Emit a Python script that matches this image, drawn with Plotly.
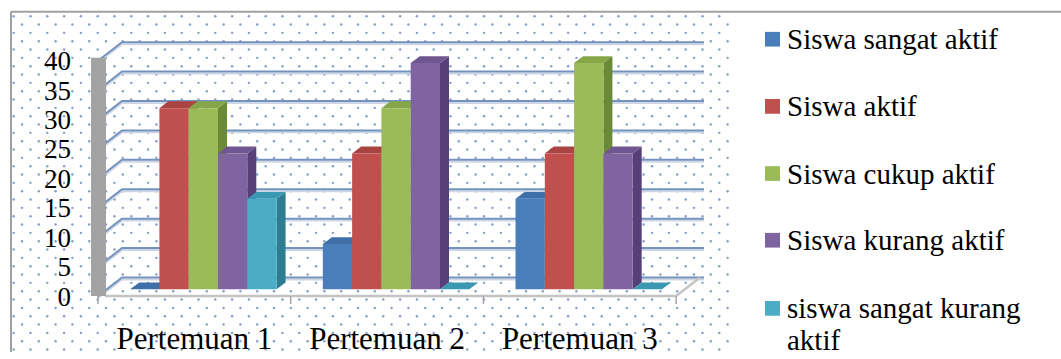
import numpy as np
import plotly.graph_objects as go

# ---------------- data ----------------
categories = ["Pertemuan 1", "Pertemuan 2", "Pertemuan 3"]
series_names = [
    "Siswa sangat aktif",
    "Siswa aktif",
    "Siswa cukup aktif",
    "Siswa kurang aktif",
    "siswa sangat kurang aktif",
]
sangat_aktif = [0, 7.69, 15.38]
aktif = [30.77, 23.08, 23.08]
cukup_aktif = [30.77, 30.77, 38.46]
kurang_aktif = [23.08, 38.46, 23.08]
sangat_kurang_aktif = [15.38, 0, 0]
y_ticks = [0, 5, 10, 15, 20, 25, 30, 35, 40]

series_values = [sangat_aktif, aktif, cukup_aktif, kurang_aktif, sangat_kurang_aktif]

front_colors = ["#4a7ebb", "#c0504d", "#9bbb59", "#8064a2", "#4bacc6"]
side_colors = ["#2f5b8c", "#8c3331", "#6b8a35", "#56407a", "#2c7d92"]
top_colors = ["#3f6fa8", "#a94442", "#86a64a", "#6f5690", "#3b98b2"]

FONT = "Liberation Serif, Times New Roman, serif"

# ---------------- geometry (pixels) ----------------
W, H = 1061, 359
PX_PER_CAT = 192.7      # width of one category on the front plane
PX_PER_VAL = 6.0        # pixels per value unit
X0_PX, Y0_PX = 98, 302  # front-plane origin
DOM_L, DOM_R, DOM_T, DOM_B = 78, 740, 13, 310

WALL_DX, WALL_DY = 24, 19   # depth of the chart box
BAR_DX, BAR_DY = 9, 7       # bars stand in the middle of the box
TOP_DX, TOP_DY = 9, 7       # depth of a single bar
GROUP_W = 0.76


def du(px):
    return px / PX_PER_CAT


def dv(px):
    return px / PX_PER_VAL


x_range = [du(DOM_L - X0_PX), du(DOM_R - X0_PX)]
y_range = [dv(Y0_PX - DOM_B), dv(Y0_PX - DOM_T)]
n_cat = len(categories)
bar_w = GROUP_W / len(series_values)

fig = go.Figure()

# ---------------- dotted chart-area texture ----------------
dot_x, dot_y = [], []
for r in range(41):
    yy = 16.5 + 8.5 * r
    start = 13.7 if r % 2 == 0 else 5.2
    xs = np.arange(start, 731, 16.8)
    xs = xs[xs > 13]
    dot_x.extend(xs.tolist())
    dot_y.extend([yy] * len(xs))
fig.add_trace(go.Scatter(
    x=dot_x, y=dot_y, mode="markers",
    marker=dict(size=2.4, color="#6d8cbc", opacity=0.85),
    hoverinfo="skip", showlegend=False, xaxis="x", yaxis="y",
))

# ---------------- walls, gridlines, floor ----------------
wall_du, wall_dv = du(WALL_DX), dv(WALL_DY)
grid_x, grid_y = [], []
for v in y_ticks:
    # side-wall diagonal, then back-wall line
    grid_x += [0, wall_du, du(704 - X0_PX), None]
    grid_y += [v, v + wall_dv, v + wall_dv, None]
shadow_x = list(grid_x)
shadow_y = [None if p is None else p - dv(2) for p in grid_y]
fig.add_trace(go.Scatter(x=shadow_x, y=shadow_y, mode="lines",
                         line=dict(color="#cdd6e4", width=2),
                         hoverinfo="skip", showlegend=False, xaxis="x2", yaxis="y2"))
fig.add_trace(go.Scatter(x=grid_x, y=grid_y, mode="lines",
                         line=dict(color="#7592bf", width=2),
                         hoverinfo="skip", showlegend=False, xaxis="x2", yaxis="y2"))

# floor edge
fig.add_trace(go.Scatter(
    x=[du(105 - X0_PX), n_cat, n_cat + wall_du],
    y=[0, 0, wall_dv], mode="lines",
    line=dict(color="#c4c4c4", width=2.5),
    hoverinfo="skip", showlegend=False, xaxis="x2", yaxis="y2"))

# category separators below the floor
tick_x, tick_y = [], []
for i in range(n_cat + 1):
    tick_x += [i, i, None]
    tick_y += [0, dv(-8), None]
fig.add_trace(go.Scatter(x=tick_x, y=tick_y, mode="lines",
                         line=dict(color="#a6a6a6", width=1.5),
                         hoverinfo="skip", showlegend=False, xaxis="x2", yaxis="y2"))

# left side wall
fig.add_trace(go.Scatter(
    x=[du(91 - X0_PX), du(106 - X0_PX), du(106 - X0_PX), du(91 - X0_PX), du(91 - X0_PX)],
    y=[0, 0, dv(302 - 59), dv(302 - 59), 0],
    mode="lines", fill="toself", fillcolor="#a3a3a3", line=dict(width=0),
    hoverinfo="skip", showlegend=False, xaxis="x2", yaxis="y2"))

# ---------------- bars ----------------
base = dv(BAR_DY)
tdx, tdy = du(TOP_DX), dv(TOP_DY)
bar_centers = []
for k, vals in enumerate(series_values):
    xc = [i + 0.5 + (k - 2) * bar_w + du(BAR_DX) for i in range(n_cat)]
    bar_centers.append(xc)
    sx, sy, tx, ty = [], [], [], []
    for c, h in zip(xc, vals):
        xl, xr = c - bar_w / 2, c + bar_w / 2
        t = base + h
        sx += [xr, xr + tdx, xr + tdx, xr, xr, None]
        sy += [base, base + tdy, t + tdy, t, base, None]
        tx += [xl, xr, xr + tdx, xl + tdx, xl, None]
        ty += [t, t, t + tdy, t + tdy, t, None]
    fig.add_trace(go.Scatter(x=sx, y=sy, mode="lines", fill="toself",
                             fillcolor=side_colors[k], line=dict(width=0),
                             hoverinfo="skip", showlegend=False, xaxis="x2", yaxis="y2"))
    fig.add_trace(go.Scatter(x=tx, y=ty, mode="lines", fill="toself",
                             fillcolor=top_colors[k], line=dict(width=0),
                             hoverinfo="skip", showlegend=False, xaxis="x2", yaxis="y2"))

for k, vals in enumerate(series_values):
    fig.add_trace(go.Bar(
        x=bar_centers[k], y=vals, base=base, width=bar_w,
        name=series_names[k], showlegend=False,
        marker=dict(color=front_colors[k], line=dict(width=0)),
        xaxis="x3", yaxis="y3",
    ))

# ---------------- legend (right-hand key) ----------------
legend_rows = [40, 108.5, 177, 245, 314.5]   # row centres, px from top
legend_lines = [
    ["Siswa sangat aktif"],
    ["Siswa aktif"],
    ["Siswa cukup aktif"],
    ["Siswa kurang aktif"],
    ["siswa sangat kurang", "aktif"],
]
LINE_STEP = 32
shapes = [
    dict(type="line", xref="paper", yref="paper",
         x0=11 / W, x1=1, y0=1 - 12 / H, y1=1 - 12 / H,
         line=dict(color="#a0a0a0", width=2)),
    dict(type="line", xref="paper", yref="paper",
         x0=11 / W, x1=11 / W, y0=0, y1=1 - 12 / H,
         line=dict(color="#a0a0a0", width=2)),
]
annotations = []
for k, (yc, lines) in enumerate(zip(legend_rows, legend_lines)):
    shapes.append(dict(type="rect", xref="paper", yref="paper",
                       x0=765 / W, x1=780 / W,
                       y0=1 - (yc + 7.5) / H, y1=1 - (yc - 7.5) / H,
                       fillcolor=front_colors[k], line=dict(width=0)))
    for j, txt in enumerate(lines):
        annotations.append(dict(
            text=txt, xref="paper", yref="paper",
            x=785 / W, y=1 - (yc + j * LINE_STEP) / H,
            xanchor="left", yanchor="middle", showarrow=False,
            font=dict(family=FONT, size=29, color="black"),
        ))

# ---------------- layout ----------------
dom_x = [DOM_L / W, DOM_R / W]
dom_y = [(H - DOM_B) / H, (H - DOM_T) / H]
hidden = dict(visible=False, showgrid=False, zeroline=False)

fig.update_layout(
    width=W, height=H, autosize=False,
    margin=dict(l=0, r=0, t=0, b=0),
    paper_bgcolor="white", plot_bgcolor="rgba(0,0,0,0)",
    font=dict(family=FONT, color="black", size=29),
    barmode="overlay", showlegend=False,
    xaxis=dict(domain=[0, 1], range=[0, W], anchor="y", **hidden),
    yaxis=dict(domain=[0, 1], range=[H, 0], anchor="x", **hidden),
    xaxis2=dict(domain=dom_x, range=x_range, anchor="y2",
                tickvals=[i + 0.5 for i in range(n_cat)], ticktext=categories,
                ticks="", showgrid=False, zeroline=False, showline=False,
                tickfont=dict(family=FONT, size=31, color="black"),
                ticklabelstandoff=13),
    yaxis2=dict(domain=dom_y, range=y_range, anchor="x2",
                tickvals=y_ticks, ticktext=[str(v) for v in y_ticks],
                ticks="", showgrid=False, zeroline=False, showline=False,
                tickfont=dict(family=FONT, size=27, color="black"),
                ticklabelstandoff=6),
    xaxis3=dict(domain=dom_x, range=x_range, anchor="y3", **hidden),
    yaxis3=dict(domain=dom_y, range=y_range, anchor="x3", **hidden),
    shapes=shapes,
    annotations=annotations,
)

fig.write_html("out.html")
